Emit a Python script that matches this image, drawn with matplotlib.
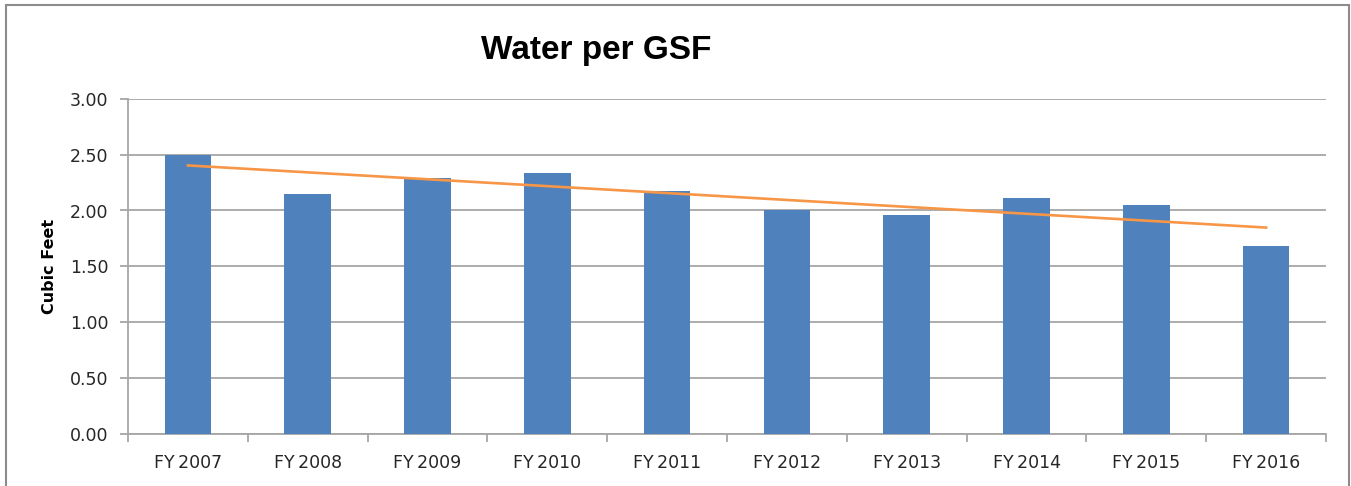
import matplotlib
matplotlib.use("Agg")
import matplotlib.pyplot as plt
import numpy as np
from matplotlib.patches import Rectangle

categories = ["FY2007", "FY2008", "FY2009", "FY2010", "FY2011",
              "FY2012", "FY2013", "FY2014", "FY2015", "FY2016"]
values = [2.50, 2.145, 2.29, 2.34, 2.175, 2.00, 1.96, 2.11, 2.05, 1.685]
yticks = [0.0, 0.5, 1.0, 1.5, 2.0, 2.5, 3.0]

bar_color = "#4F81BD"
trend_color = "#F79646"
grid_color = "#A6A6A6"
text_color = "#262626"

fig = plt.figure(figsize=(13.51, 4.86), dpi=100)
ax = fig.add_axes([128/1351, 1-433.5/486, (1326-128)/1351, (433.5-99)/486])

x = np.arange(len(categories))
ax.bar(x, values, width=0.39, color=bar_color, zorder=3)

coef = np.polyfit(x, values, 1)
ax.plot(x, np.polyval(coef, x), color=trend_color, lw=1.9, zorder=4)

ax.set_xlim(-0.5, len(categories) - 0.5)
ax.set_ylim(0, 3.0)
ax.set_yticks(yticks)
ax.set_yticklabels([f"{v:.2f}" for v in yticks], fontsize=12.5, color=text_color)
ax.yaxis.grid(True, color=grid_color, lw=1.3, zorder=0)

ax.set_xticks(np.arange(-0.5, len(categories), 1.0))
ax.set_xticklabels([])
ax.set_xticks(x, minor=True)
ax.set_xticklabels([c.replace("FY", "FY\u2009") for c in categories], minor=True,
                   fontsize=12.5, color=text_color)
ax.tick_params(axis="x", which="major", length=6, color=grid_color, width=1.3, direction="out")
ax.tick_params(axis="x", which="minor", length=0, pad=15)
ax.tick_params(axis="y", length=6, color=grid_color, width=1.3, pad=8)

for s in ["top", "right"]:
    ax.spines[s].set_visible(False)
for s in ["left", "bottom"]:
    ax.spines[s].set_color(grid_color)
    ax.spines[s].set_linewidth(1.3)

ax.set_ylabel("Cubic Feet", fontsize=11.5, fontweight="bold", color="black")
ax.yaxis.set_label_coords(-71/1198, (433.5-266)/334.5)

fig.text(596/1351, 1-51/486, "Water per GSF", ha="center", va="center",
         fontsize=24, fontweight="bold", family="Liberation Sans", color="black")

fig.patches.append(Rectangle((6/1351, -0.1), (1349-6)/1351, 1.1 - 5/486,
                             transform=fig.transFigure, fill=False,
                             edgecolor="#8C8C8C", lw=1.5))

fig.savefig("out.png", dpi=100)
